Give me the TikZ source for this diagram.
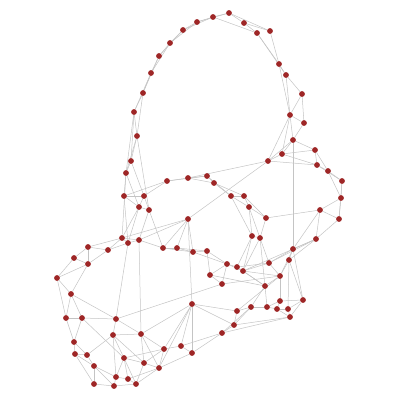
\documentclass[tikz,border=0pt]{standalone}
\usetikzlibrary{backgrounds}
\definecolor{nodered}{RGB}{158,38,38}
\definecolor{edgegray}{RGB}{196,196,196}
\begin{document}
\begin{tikzpicture}[x=1pt,y=-1pt,
  v/.style={circle,fill=nodered,inner sep=0pt,minimum size=5.8pt},
  e/.style={draw=edgegray,line width=0.5pt}]
\useasboundingbox (0,0) rectangle (400,400);
\foreach \i/\x/\y in {
1/229/13,2/213/17,3/197/22,4/183/30,5/170/43,6/159/56,7/151/73,8/143/93,9/134/112,10/137/136,
11/244/23,12/257/33,13/270/31,14/279/64,15/286/75,16/302/94,17/290/115,18/304/123,19/293/140,
20/131/161,21/126/173,22/124/196,23/144/196,24/139/207,25/149/210,
26/167/181,27/188/178,28/207/176,29/214/183,30/231/196,31/244/196,32/249/207,33/188/219,34/266/218,35/252/236,36/260/238,
37/282/154,38/315/150,39/268/161,40/317/165,41/328/171,42/342/181,43/341/198,44/320/210,45/339/219,46/316/239,47/293/249,48/289/260,
49/122/238,50/128/243,51/139/240,52/108/250,53/88/247,54/163/248,55/177/248,56/193/252,57/207/251,58/227/264,59/237/267,60/243/271,
61/269/263,62/210/275,63/222/284,64/265/286,65/280/276,
66/74/258,67/88/264,68/57/278,69/71/294,70/66/318,71/82/318,72/116/319,73/74/342,74/75/354,75/87/355,76/113/335,77/141/334,
78/94/366,79/124/358,80/144/363,81/116/377,82/128/379,83/136/384,84/94/384,85/114/386,86/159/368,87/164/349,88/181/346,89/192/353,
90/192/304,91/222/333,92/234/325,93/237/311,94/251/307,95/267/307,96/280/301,97/277/309,98/288/309,99/303/300,100/290/317}
  \node[v] (n\i) at (\x,\y) {};
\begin{pgfonlayer}{background}
\foreach \a/\b in {
1/2,2/3,3/4,4/5,5/6,6/7,7/8,8/9,9/10,1/3,2/4,3/5,4/6,5/7,6/8,7/9,8/10,
1/11,1/13,2/12,11/12,11/13,12/14,13/14,12/15,14/15,14/17,15/16,15/17,16/17,16/18,17/18,17/19,18/19,
9/20,9/21,10/20,10/21,10/25,20/21,20/23,21/22,21/24,22/23,22/24,23/24,23/25,24/25,22/50,24/49,24/50,21/49,
22/26,23/26,26/27,26/28,27/28,27/29,28/29,28/30,29/30,29/31,30/31,30/32,31/32,31/34,32/34,32/35,32/36,34/36,35/36,30/35,
27/39,33/39,33/49,33/51,33/54,33/55,33/56,33/90,25/54,25/51,
19/37,19/38,19/39,19/47,37/17,39/17,37/38,37/40,39/40,38/40,38/41,40/41,41/42,40/42,41/43,42/43,42/45,43/44,43/45,44/45,
44/46,45/46,44/47,46/47,46/48,47/48,34/44,39/37,
49/50,50/51,49/51,49/52,49/53,50/52,51/54,54/55,55/56,56/57,54/56,55/57,57/58,56/58,58/59,59/60,58/60,57/62,58/62,62/63,58/63,
59/61,60/61,61/47,61/46,60/46,35/59,35/60,36/60,36/61,36/64,59/64,60/64,60/65,61/65,47/65,48/65,64/65,64/94,64/95,65/93,65/96,
48/98,48/99,47/99,62/64,63/65,63/72,
53/66,53/52,53/67,66/67,66/68,67/68,52/67,67/69,68/69,68/70,69/70,69/71,69/72,70/71,70/73,71/73,71/72,72/76,72/77,50/72,51/77,
73/74,73/75,74/75,74/78,75/78,74/84,78/84,78/81,84/85,81/85,81/82,82/83,85/83,79/81,79/82,79/83,79/80,80/83,80/86,77/80,77/86,
77/87,76/79,76/81,76/75,71/79,78/85,76/77,76/80,79/87,
87/88,88/89,87/90,88/90,89/90,88/91,86/87,86/89,80/87,90/93,90/92,91/92,92/93,91/94,92/94,93/94,94/95,95/97,95/96,96/97,96/99,
97/98,98/99,98/100,97/100,99/100,91/100,92/100,89/91,83/86,82/86,77/90,86/90}
  \draw[e] (n\a) -- (n\b);
\end{pgfonlayer}
\end{tikzpicture}
\end{document}
